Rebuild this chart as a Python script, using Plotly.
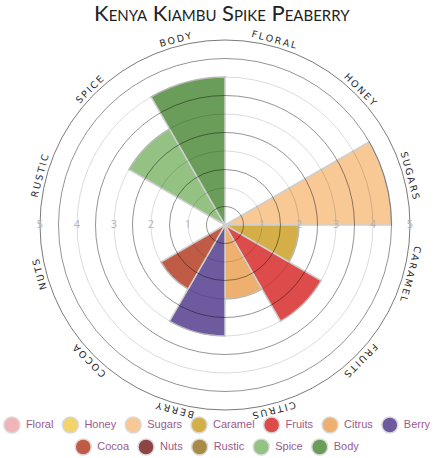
import math
import plotly.graph_objects as go

# flavour scores (0-5 scale)
categories = ["Floral", "Honey", "Sugars", "Caramel", "Fruits", "Citrus",
              "Berry", "Cocoa", "Nuts", "Rustic", "Spice", "Body"]
scores = [0, 0, 4.5, 2, 3, 2, 3, 2, 0, 0, 3, 4]
colors = ["#f2b5b7", "#f3d46c", "#f8c895", "#d4af47", "#dd4b4b", "#eeb06f",
          "#6e5b9f", "#c05c46", "#8e4443", "#a88b45", "#93c283", "#6b9d5a"]
radial_ticks = [1, 2, 3, 4, 5]
half_ticks = [0.5, 1.5, 2.5, 3.5, 4.5]
chart_title = "Kenya Kiambu Spike Peaberry"

W, H = 435, 458
CX, CY, R = 225, 233, 185          # wheel centre (px from left / bottom) and radius
dom = dict(x=[(CX - R) / W, (CX + R) / W], y=[(CY - R) / H, (CY + R) / H])
clear = "rgba(0,0,0,0)"

fig = go.Figure()

# the wedges
fig.add_trace(go.Barpolar(
    r=scores, theta=categories, subplot="polar",
    marker=dict(color=colors, line=dict(color="#cfcfcf", width=1.5)),
    showlegend=False, hoverinfo="skip",
))
# placeholder so the overlay wheel gets drawn
fig.add_trace(go.Scatterpolar(r=[0], theta=[0], mode="lines", subplot="polar2",
                              line=dict(width=0), showlegend=False, hoverinfo="skip"))
# radial numbers on both sides of the centre
fig.add_trace(go.Scatterpolar(
    r=radial_ticks + radial_ticks,
    theta=[90] * len(radial_ticks) + [270] * len(radial_ticks),
    text=[str(t) for t in radial_ticks] * 2,
    mode="text", subplot="polar3",
    textfont=dict(family="Open Sans", size=11, color="#b5b5b5"),
    showlegend=False, hoverinfo="skip",
))

hidden_ang = dict(showgrid=False, showticklabels=False, ticks="", showline=False)
fig.update_layout(
    polar=dict(
        domain=dom, bgcolor="white", bargap=0,
        angularaxis=dict(type="category", categoryarray=categories, rotation=75,
                         direction="clockwise", visible=False),
        radialaxis=dict(range=[0, 5], visible=False),
    ),
    polar2=dict(
        domain=dom, bgcolor=clear,
        angularaxis=dict(showgrid=False, showticklabels=False, ticks="",
                         showline=True, linecolor="#7a7a7a", linewidth=1),
        radialaxis=dict(range=[0, 5], tickvals=half_ticks, showticklabels=False,
                        ticks="", showline=False, gridcolor="rgba(0,0,0,0.42)", gridwidth=0.8),
    ),
    polar3=dict(
        domain=dom, bgcolor=clear,
        angularaxis=dict(rotation=90, direction="clockwise", **hidden_ang),
        radialaxis=dict(range=[0, 5], tickvals=radial_ticks, showticklabels=False,
                        ticks="", showline=False, gridcolor="rgba(0,0,0,0.14)", gridwidth=1),
    ),
)

# category names running round the rim
annotations = []
label_r = R + 7
for i, name in enumerate(categories):
    ang = 15 + 30 * i
    a = math.radians(ang)
    annotations.append(dict(
        x=(CX + label_r * math.sin(a)) / W, y=(CY + label_r * math.cos(a)) / H,
        xref="paper", yref="paper", xanchor="center", yanchor="middle",
        text="\u2009".join(name.upper()), textangle=ang if ang <= 180 else ang - 360,
        showarrow=False, font=dict(family="DejaVu Sans", size=9.5, color="#2a2a2a"),
    ))

# legend built as a centred, wrapping row of dots + names (Arial metrics, 11px)
char_w = {"F": .611, "l": .222, "o": .556, "r": .333, "a": .556, "H": .722, "n": .556,
          "e": .556, "y": .5, "S": .667, "u": .556, "g": .556, "s": .5, "C": .722,
          "m": .833, "i": .222, "t": .278, "B": .667, "N": .722, "R": .722, "c": .5,
          "p": .556, "d": .556}
fs, dot, gap, trail = 11, 16, 7, 8
widths = [dot + gap + sum(char_w.get(ch, .55) for ch in c) * fs for c in categories]

rows, cur, cur_w = [], [], 0
for i, w in enumerate(widths):
    if cur and cur_w + trail + w > W:
        rows.append(cur)
        cur, cur_w = [], 0
    cur_w += (trail if cur else 0) + w
    cur.append(i)
rows.append(cur)

row_y = [33, 11]
dot_x, dot_y, txt_x = [0] * len(categories), [0] * len(categories), [0] * len(categories)
for ri, row in enumerate(rows):
    total = sum(widths[i] for i in row) + trail * (len(row) - 1)
    x = (W - total) / 2
    for i in row:
        dot_x[i] = x + dot / 2
        dot_y[i] = row_y[ri]
        txt_x[i] = x + dot + gap - 1
        x += widths[i] + trail

fig.add_trace(go.Scatter(
    x=dot_x, y=dot_y, mode="markers",
    marker=dict(size=dot, color=colors, line=dict(color="#d9d9d9", width=1.5)),
    showlegend=False, hoverinfo="skip",
))
fig.add_trace(go.Scatter(
    x=txt_x, y=dot_y, mode="text", text=categories, textposition="middle right",
    textfont=dict(family="Liberation Sans, Arial", size=fs, color="#9b5a8c"),
    showlegend=False, hoverinfo="skip",
))

fig.update_layout(
    width=W, height=H,
    margin=dict(l=0, r=0, t=0, b=0),
    paper_bgcolor="white", plot_bgcolor=clear,
    xaxis=dict(range=[0, W], domain=[0, 1], visible=False, fixedrange=True),
    yaxis=dict(range=[0, 46], domain=[0, 46 / H], visible=False, fixedrange=True),
    title=dict(text=chart_title, x=0.51, xanchor="center", y=0.972, yanchor="middle",
               font=dict(family="Lato", size=22, color="#222", variant="small-caps")),
    annotations=annotations,
    showlegend=False,
    hovermode=False,
)

# browser default body margin would push the fixed-size figure off the window
fig.write_html("out.html", config={"displayModeBar": False},
               post_script="document.body.style.margin='0';")
